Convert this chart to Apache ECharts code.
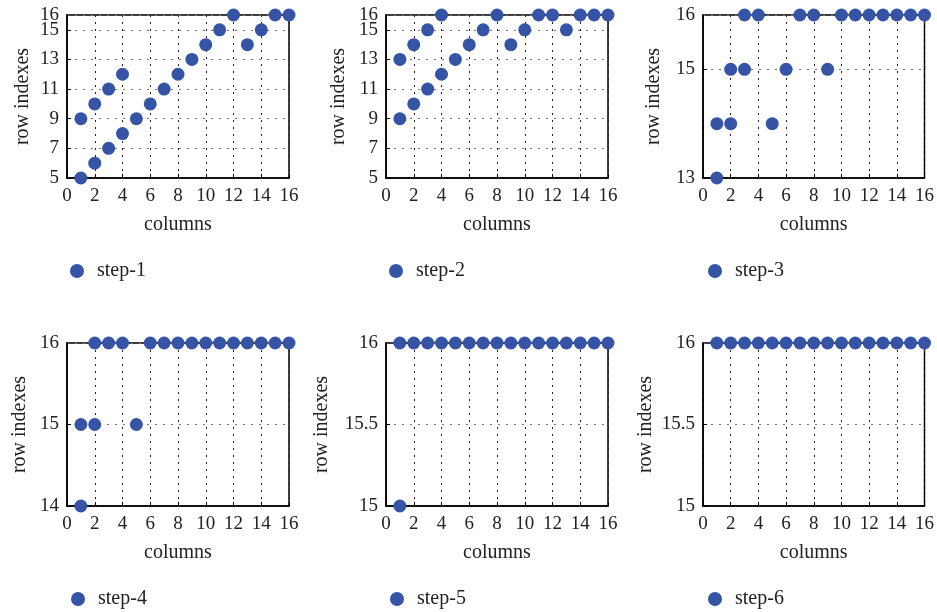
<!DOCTYPE html>
<html>
<head>
<meta charset="utf-8">
<script src="https://cdn.jsdelivr.net/npm/echarts@6/dist/echarts.min.js"></script>
<style>
  html, body { margin: 0; padding: 0; background: #fff; }
  #main { width: 937px; height: 612px; }
</style>
</head>
<body>
<div id="main"></div>
<script>
// 每一步的点：列号 / 行号
const step1Cols = [1, 1, 2, 2, 3, 3, 4, 4, 5, 6, 7, 8, 9, 10, 11, 12, 13, 14, 15, 16]
const step1Rows = [9, 5, 10, 6, 11, 7, 12, 8, 9, 10, 11, 12, 13, 14, 15, 16, 14, 15, 16, 16]

const step2Cols = [1, 1, 2, 2, 3, 3, 4, 4, 5, 6, 7, 8, 9, 10, 11, 12, 13, 14, 15, 16]
const step2Rows = [13, 9, 14, 10, 15, 11, 16, 12, 13, 14, 15, 16, 14, 15, 16, 16, 15, 16, 16, 16]

const step3Cols = [1, 1, 2, 2, 3, 3, 4, 5, 6, 7, 8, 9, 10, 11, 12, 13, 14, 15, 16]
const step3Rows = [14, 13, 15, 14, 16, 15, 16, 14, 15, 16, 16, 15, 16, 16, 16, 16, 16, 16, 16]

const step4Cols = [1, 1, 2, 2, 3, 4, 5, 6, 7, 8, 9, 10, 11, 12, 13, 14, 15, 16]
const step4Rows = [15, 14, 16, 15, 16, 16, 15, 16, 16, 16, 16, 16, 16, 16, 16, 16, 16, 16]

const step5Cols = [1, 1, 2, 3, 4, 5, 6, 7, 8, 9, 10, 11, 12, 13, 14, 15, 16]
const step5Rows = [16, 15, 16, 16, 16, 16, 16, 16, 16, 16, 16, 16, 16, 16, 16, 16, 16]

const step6Cols = [1, 2, 3, 4, 5, 6, 7, 8, 9, 10, 11, 12, 13, 14, 15, 16]
const step6Rows = [16, 16, 16, 16, 16, 16, 16, 16, 16, 16, 16, 16, 16, 16, 16, 16]

const stepNames = ['step-1', 'step-2', 'step-3', 'step-4', 'step-5', 'step-6']
const yMins = [5, 5, 13, 14, 15, 15]
const yIntervals = [2, 2, 2, 1, 0.5, 0.5]
const yMax = 16
const xTicks = [0, 2, 4, 6, 8, 10, 12, 14, 16]

const allCols = [step1Cols, step2Cols, step3Cols, step4Cols, step5Cols, step6Cols]
const allRows = [step1Rows, step2Rows, step3Rows, step4Rows, step5Rows, step6Rows]

const FONT = '"Liberation Serif", "DejaVu Serif", serif'
const BLUE = '#3654a5'

// 每个小图的位置
const lefts = [67, 386, 703]
const tops = [15, 343]
const gridW = 222
const gridH = 163
const yNameGaps = [34, 37, 39, 37, 54, 47]
const legendLefts = [65, 384, 703, 66, 385, 703]
const legendTops = [256, 256, 256, 584, 584, 584]

let grids = [], xAxes = [], yAxes = [], series = [], legends = []

for (let i = 0; i < 6; i++) {
  grids.push({
    left: lefts[i % 3],
    top: tops[Math.floor(i / 3)],
    width: gridW,
    height: gridH,
    show: true,
    borderColor: '#000',
    borderWidth: 1.5
  })
  xAxes.push({
    gridIndex: i,
    type: 'value',
    min: xTicks[0],
    max: xTicks[xTicks.length - 1],
    interval: 2,
    name: 'columns',
    nameLocation: 'middle',
    nameGap: 37,
    nameTextStyle: { fontFamily: FONT, fontSize: 20, color: '#222' },
    axisLine: { lineStyle: { color: '#000', width: 1.5 } },
    axisTick: { inside: true, length: 4, lineStyle: { color: '#000' } },
    axisLabel: { fontFamily: FONT, fontSize: 19, color: '#222', margin: 9, showMinLabel: true, showMaxLabel: true },
    splitLine: { show: true, lineStyle: { color: '#222', type: [2, 5], width: 1 } }
  })
  // 主 y 轴：最大值标签不显示（否则 15 会被隐藏）
  yAxes.push({
    gridIndex: i,
    type: 'value',
    position: 'left',
    min: yMins[i],
    max: yMax,
    interval: yIntervals[i],
    name: 'row indexes',
    nameLocation: 'middle',
    nameGap: yNameGaps[i],
    nameTextStyle: { fontFamily: FONT, fontSize: 20, color: '#222' },
    axisLine: { lineStyle: { color: '#000', width: 1.5 } },
    axisTick: { inside: true, length: 4, lineStyle: { color: '#000' } },
    axisLabel: { fontFamily: FONT, fontSize: 19, color: '#222', margin: 8, showMinLabel: true, showMaxLabel: false },
    splitLine: { show: true, lineStyle: { color: '#777', type: [2, 6], width: 1 } }
  })
}
// 辅助 y 轴：只显示最大值 16 的标签
for (let i = 0; i < 6; i++) {
  yAxes.push({
    gridIndex: i,
    type: 'value',
    position: 'left',
    offset: 0,
    min: yMins[i],
    max: yMax,
    interval: yIntervals[i],
    axisLine: { show: false },
    axisTick: { show: false },
    splitLine: { show: false },
    axisLabel: {
      fontFamily: FONT, fontSize: 19, color: '#222', margin: 8, showMaxLabel: true,
      formatter: function (v) { return v === yMax ? String(yMax) : '' }
    }
  })
}
for (let i = 0; i < 6; i++) {
  series.push({
    name: stepNames[i],
    type: 'scatter',
    xAxisIndex: i,
    yAxisIndex: i,
    symbol: 'circle',
    symbolSize: 13,
    clip: false,
    itemStyle: { color: BLUE, opacity: 1 },
    data: allCols[i].map((c, k) => [c, allRows[i][k]])
  })
  legends.push({
    data: [stepNames[i]],
    left: legendLefts[i],
    top: legendTops[i],
    icon: 'circle',
    itemWidth: 14,
    itemHeight: 14,
    textStyle: { fontFamily: FONT, fontSize: 20, color: '#222', padding: [0, 0, 0, 8] }
  })
}

let myChart = echarts.init(document.getElementById('main'))
let option = {
  backgroundColor: '#fff',
  animation: false,
  legend: legends,
  grid: grids,
  xAxis: xAxes,
  yAxis: yAxes,
  series: series
}
myChart.setOption(option)
window.addEventListener('resize', function () {
  myChart.resize()
}, false)
</script>
</body>
</html>
